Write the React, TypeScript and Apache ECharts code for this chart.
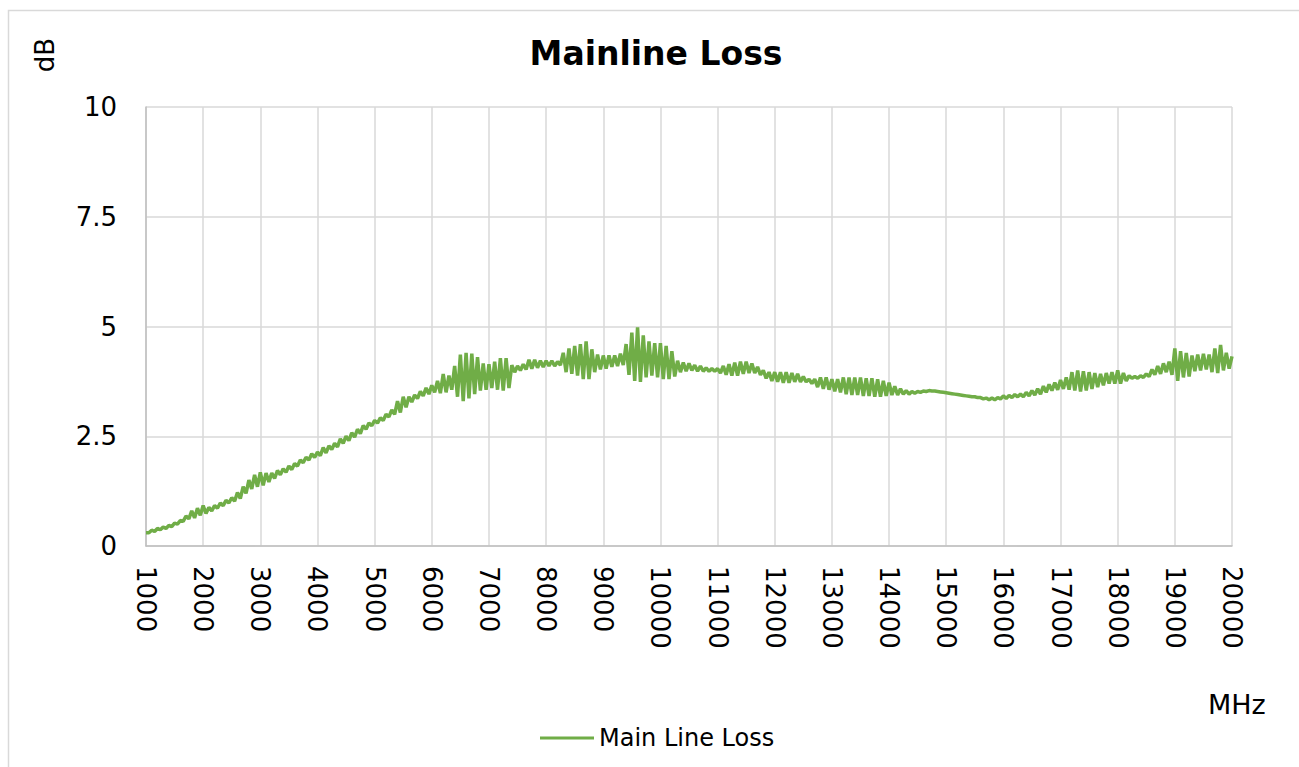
import React, { useEffect, useRef } from "react";
import * as echarts from "echarts";

const TITLE = "Mainline Loss";
const SERIES_NAME = "Main Line Loss";
const Y_NAME = "dB";
const X_NAME = "MHz";

// Sampling grid of the measurement (MHz)
const FREQ_START = 1000;
const FREQ_STEP = 50;

// Loss in dB, one value per 50 MHz from 1000 to 20000 MHz
const loss1000 = [0.30, 0.30, 0.36, 0.33, 0.40, 0.37, 0.43, 0.40, 0.47, 0.44, 0.52, 0.50, 0.58, 0.56, 0.68, 0.62, 0.80, 0.64, 0.86, 0.70];
const loss2000 = [0.92, 0.74, 0.88, 0.80, 0.92, 0.86, 0.98, 0.92, 1.04, 0.98, 1.10, 1.02, 1.22, 1.08, 1.35, 1.20, 1.50, 1.30, 1.62, 1.35];
const loss3000 = [1.68, 1.38, 1.66, 1.46, 1.66, 1.54, 1.72, 1.62, 1.76, 1.68, 1.82, 1.74, 1.88, 1.82, 1.96, 1.90, 2.02, 1.96, 2.10, 2.02];
const loss4000 = [2.14, 2.06, 2.24, 2.12, 2.28, 2.20, 2.34, 2.26, 2.44, 2.34, 2.50, 2.40, 2.58, 2.48, 2.66, 2.56, 2.74, 2.66, 2.80, 2.74];
const loss5000 = [2.86, 2.80, 2.92, 2.86, 3.00, 2.94, 3.10, 3.00, 3.30, 3.04, 3.40, 3.16, 3.40, 3.28, 3.44, 3.36, 3.52, 3.42, 3.60, 3.46];
const loss6000 = [3.66, 3.50, 3.76, 3.48, 3.92, 3.50, 3.88, 3.56, 4.10, 3.40, 4.36, 3.30, 4.40, 3.36, 4.38, 3.46, 4.30, 3.54, 4.16, 3.56];
const loss7000 = [4.14, 3.60, 4.20, 3.56, 4.28, 3.54, 4.28, 3.60, 4.12, 3.96, 4.10, 4.00, 4.14, 4.02, 4.24, 4.04, 4.24, 4.06, 4.22, 4.08];
const loss8000 = [4.22, 4.10, 4.22, 4.10, 4.20, 4.12, 4.40, 3.96, 4.50, 3.92, 4.56, 3.88, 4.60, 3.80, 4.66, 3.80, 4.48, 3.96, 4.36, 4.02];
const loss9000 = [4.34, 4.04, 4.34, 4.08, 4.34, 4.10, 4.38, 4.12, 4.60, 3.90, 4.86, 3.76, 4.98, 3.74, 4.80, 3.84, 4.66, 3.88, 4.62, 3.84];
const loss10000 = [4.62, 3.80, 4.56, 3.80, 4.44, 3.86, 4.22, 3.96, 4.18, 3.98, 4.16, 4.00, 4.12, 3.98, 4.10, 3.98, 4.06, 3.98, 4.04, 3.98];
const loss11000 = [4.04, 3.94, 4.10, 3.90, 4.14, 3.88, 4.18, 3.88, 4.20, 3.92, 4.20, 3.94, 4.16, 3.94, 4.08, 3.90, 4.00, 3.82, 3.96, 3.76];
const loss12000 = [3.96, 3.74, 3.96, 3.72, 3.96, 3.72, 3.94, 3.74, 3.92, 3.74, 3.86, 3.74, 3.80, 3.70, 3.80, 3.62, 3.84, 3.58, 3.84, 3.56];
const loss13000 = [3.80, 3.52, 3.80, 3.50, 3.84, 3.46, 3.84, 3.44, 3.84, 3.44, 3.84, 3.42, 3.82, 3.42, 3.82, 3.40, 3.80, 3.40, 3.76, 3.42];
const loss14000 = [3.72, 3.44, 3.64, 3.44, 3.58, 3.46, 3.54, 3.46, 3.52, 3.48, 3.52, 3.50, 3.53, 3.52, 3.54, 3.53, 3.53, 3.52, 3.51, 3.50];
const loss15000 = [3.49, 3.48, 3.47, 3.46, 3.45, 3.44, 3.43, 3.42, 3.41, 3.40, 3.40, 3.38, 3.38, 3.35, 3.37, 3.33, 3.37, 3.33, 3.38, 3.35];
const loss16000 = [3.42, 3.36, 3.43, 3.38, 3.45, 3.40, 3.46, 3.40, 3.50, 3.42, 3.54, 3.44, 3.58, 3.46, 3.64, 3.50, 3.68, 3.54, 3.72, 3.56];
const loss17000 = [3.78, 3.58, 3.84, 3.56, 3.96, 3.54, 4.00, 3.52, 3.98, 3.54, 3.96, 3.58, 3.94, 3.62, 3.92, 3.66, 3.94, 3.70, 3.96, 3.70];
const loss18000 = [4.00, 3.70, 3.94, 3.76, 3.88, 3.82, 3.86, 3.82, 3.88, 3.84, 3.92, 3.86, 4.02, 3.90, 4.10, 3.92, 4.16, 3.96, 4.20, 3.90];
const loss19000 = [4.50, 3.76, 4.44, 3.84, 4.40, 3.86, 4.34, 3.98, 4.36, 4.00, 4.38, 4.02, 4.36, 3.96, 4.50, 3.94, 4.58, 4.00, 4.40, 4.04];
const loss20000 = [4.32];

const lossDb = [
  ...loss1000, ...loss2000, ...loss3000, ...loss4000, ...loss5000,
  ...loss6000, ...loss7000, ...loss8000, ...loss9000, ...loss10000,
  ...loss11000, ...loss12000, ...loss13000, ...loss14000, ...loss15000,
  ...loss16000, ...loss17000, ...loss18000, ...loss19000, ...loss20000,
];

const X_MIN = 1000;
const X_MAX = 20000;
const X_INTERVAL = 1000;
const Y_MIN = 0;
const Y_MAX = 10;
const Y_INTERVAL = 2.5;

const FONT = "'DejaVu Sans', Lato, sans-serif";

export default function App() {
  const ref = useRef<HTMLDivElement>(null);

  useEffect(() => {
    document.body.style.margin = "0";
    if (!ref.current) return;
    const chart = echarts.init(ref.current, null, { renderer: "svg" });
    const data = lossDb.map((v, i) => [FREQ_START + i * FREQ_STEP, v]);
    chart.setOption({
      animation: false,
      backgroundColor: "#ffffff",
      textStyle: { fontFamily: FONT },
      title: {
        text: TITLE,
        left: 651,
        top: 32,
        textAlign: "center",
        textStyle: { fontFamily: FONT, fontSize: 33, fontWeight: "bold", color: "#000" },
      },
      legend: {
        data: [SERIES_NAME],
        left: 535,
        top: 721,
        icon: "rect",
        itemWidth: 54,
        itemHeight: 3,
        itemGap: 4,
        textStyle: { fontFamily: FONT, fontSize: 24, color: "#000", padding: [0, 0, 0, 0] },
      },
      grid: { left: 146, top: 107, width: 1086, height: 439, containLabel: false },
      xAxis: {
        type: "value",
        min: X_MIN,
        max: X_MAX,
        interval: X_INTERVAL,
        axisLine: { show: true, lineStyle: { color: "#bfbfbf", width: 1.5 } },
        axisTick: { show: false },
        splitLine: { show: true, lineStyle: { color: "#d9d9d9", width: 1.5 } },
        axisLabel: {
          rotate: -90,
          fontSize: 26,
          color: "#000",
          margin: 20,
          fontFamily: FONT,
          formatter: (v: number) => String(v),
        },
      },
      yAxis: {
        type: "value",
        min: Y_MIN,
        max: Y_MAX,
        interval: Y_INTERVAL,
        axisLine: { show: true, lineStyle: { color: "#bfbfbf", width: 1.5 } },
        axisTick: { show: false },
        splitLine: { show: true, lineStyle: { color: "#d9d9d9", width: 1.5 } },
        axisLabel: { fontSize: 26, color: "#000", margin: 29, fontFamily: FONT, formatter: (v: number) => String(v) },
      },
      graphic: [
        {
          type: "rect",
          left: 6,
          top: 8,
          shape: { width: 1400, height: 1000 },
          style: { fill: "none", stroke: "#d9d9d9", lineWidth: 1.5 },
          silent: true,
        },
        {
          type: "text",
          x: 45,
          y: 55,
          rotation: Math.PI / 2,
          style: { text: Y_NAME, fontSize: 26, fontFamily: FONT, fill: "#000", align: "center", verticalAlign: "middle" },
        },
        {
          type: "text",
          x: 1208,
          y: 704,
          style: { text: X_NAME, fontSize: 27, fontFamily: FONT, fill: "#000", align: "left", verticalAlign: "middle" },
        },
      ],
      series: [
        {
          name: SERIES_NAME,
          type: "line",
          data,
          showSymbol: false,
          symbol: "none",
          color: "#70ad47",
          lineStyle: { color: "#70ad47", width: 3.5 },
        },
      ],
    });
    return () => chart.dispose();
  }, []);

  return <div ref={ref} style={{ width: 1299, height: 767 }} />;
}
